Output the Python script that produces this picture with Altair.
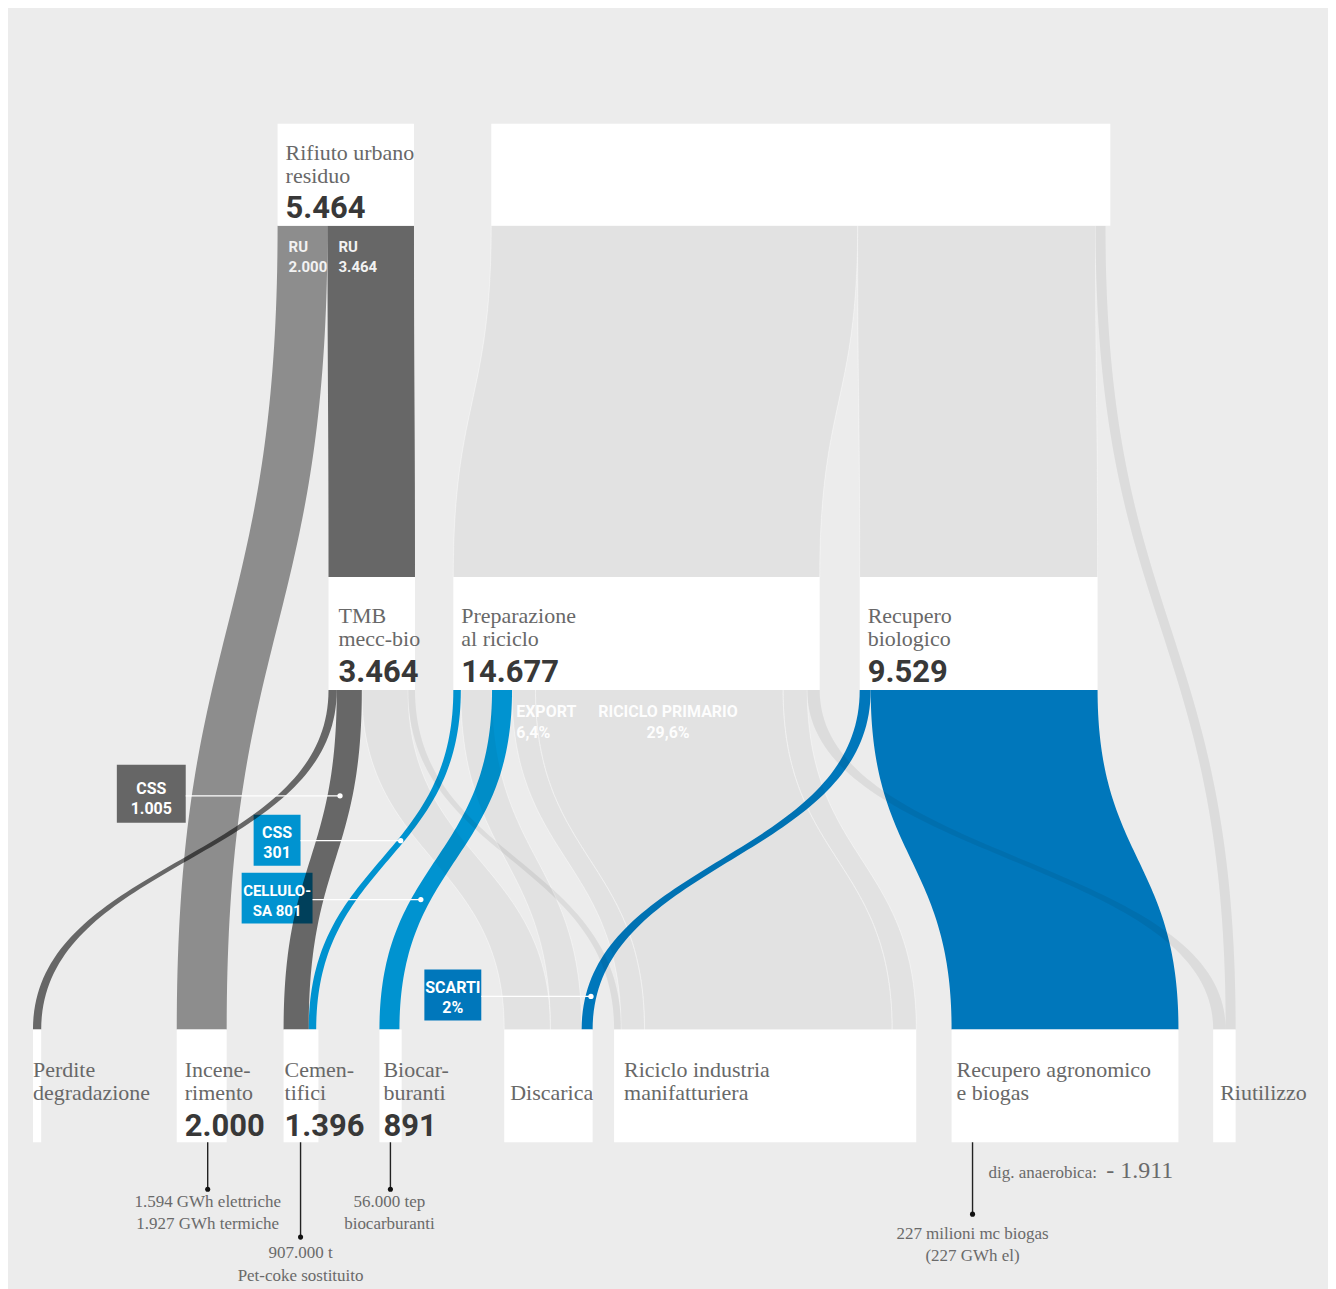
import altair as alt
import numpy as np
import pandas as pd

# ---------------- data (thousand tonnes) ----------------
node_ids = ["RUR", "RD", "TMB", "PREP", "BIO", "PERD", "INC", "CEM", "BIOC", "DISC", "RIC", "AGR", "RIU"]
node_values = [5464, 0, 3464, 14677, 9529, 0, 2000, 1396, 891, 0, 0, 0, 0]

flow_src = ["RUR", "RUR", "RD", "RD", "RD", "TMB", "TMB", "TMB", "TMB",
            "PREP", "PREP", "PREP", "PREP", "PREP", "PREP", "PREP", "BIO", "BIO"]
flow_tgt = ["INC", "TMB", "PREP", "BIO", "RIU", "PERD", "CEM", "DISC", "RIC",
            "CEM", "DISC", "BIOC", "RIC", "RIC", "RIC", "RIU", "DISC", "AGR"]
flow_val = [2000, 3464, 14677, 9529, 400, 330, 1005, 1850, 280,
            301, 1250, 801, 939, 9920, 966, 500, 440, 9089]
flow_kind = ["mid", "dark", "light", "light", "thin", "dark", "dark", "light", "thin",
             "cyan", "light", "cyan", "light", "light", "light", "thin", "blue", "blue"]
flow_tgt_rank = [0, 0, 0, 0, 1, 0, 0, 0, 0, 1, 1, 0, 1, 2, 3, 0, 2, 0]

serif_labels = [("Rifiuto urbano", "RUR", 0), ("residuo", "RUR", 1),
                ("TMB", "TMB", 0), ("mecc-bio", "TMB", 1),
                ("Preparazione", "PREP", 0), ("al riciclo", "PREP", 1),
                ("Recupero", "BIO", 0), ("biologico", "BIO", 1),
                ("Perdite", "PERD", 0), ("degradazione", "PERD", 1),
                ("Incene-", "INC", 0), ("rimento", "INC", 1),
                ("Cemen-", "CEM", 0), ("tifici", "CEM", 1),
                ("Biocar-", "BIOC", 0), ("buranti", "BIOC", 1),
                ("Discarica", "DISC", 1),
                ("Riciclo industria", "RIC", 0), ("manifatturiera", "RIC", 1),
                ("Recupero agronomico", "AGR", 0), ("e biogas", "AGR", 1),
                ("Riutilizzo", "RIU", 1)]

annotations = ["1.594 GWh elettriche", "1.927 GWh termiche", "907.000 t", "Pet-coke sostituito",
               "56.000 tep", "biocarburanti", "227 milioni mc biogas", "(227 GWh el)"]
flow_tags = [["CSS", "1.005"], ["CSS", "301"], ["CELLULO-", "SA 801"], ["SCARTI", "2%"]]
pct_tags = [["EXPORT", "6,4%"], ["RICICLO PRIMARIO", "29,6%"]]

# ---------------- layout ----------------
K = 0.025  # px per thousand tonnes
node_row = [0, 0, 1, 1, 1, 2, 2, 2, 2, 2, 2, 2, 2]
node_left = [278, 492, 329, 454, 861, 33, 177, 284, 380, 505, 615, 953, 1215]
node_minw = {"RD": 620}
row_top = [123, 577, 1030]
row_bot = [225, 690, 1143]
label_dx = {"RUR": 8, "TMB": 10, "PREP": 8, "BIO": 8, "PERD": 0, "INC": 8, "CEM": 1,
            "BIOC": 4, "DISC": 6, "RIC": 10, "AGR": 5, "RIU": 7}
row_base = [[159, 182, 217], [623, 646, 682], [1078, 1101, 1137]]

SERIF = "Liberation Serif, DejaVu Serif, serif"
COND = "Roboto, Liberation Sans Narrow, sans-serif"

idx = {n: i for i, n in enumerate(node_ids)}

def fmt(v):
    return f"{v:,}".replace(",", ".")

# ---------------- flow geometry ----------------
tgt_off = {}
for n in node_ids:
    fl = sorted([i for i, t in enumerate(flow_tgt) if t == n], key=lambda i: flow_tgt_rank[i])
    off = 0.0
    for i in fl:
        tgt_off[i] = off
        off += flow_val[i] * K
src_off = {n: 0.0 for n in node_ids}
geom = {}
rows = []
edges = []
ts = np.linspace(0, 1, 81)
for i, (s, t, v) in enumerate(zip(flow_src, flow_tgt, flow_val)):
    w = v * K
    xs = node_left[idx[s]] + src_off[s]
    src_off[s] += w
    xt = node_left[idx[t]] + tgt_off[i]
    y0 = row_bot[node_row[idx[s]]]
    y1 = row_top[node_row[idx[t]]]
    geom[i] = (xs, xt, w, y0, y1)
    ym = (y0 + y1) / 2
    for tt in ts:
        a = (1 - tt) ** 3
        b = 3 * (1 - tt) ** 2 * tt
        c = 3 * (1 - tt) * tt ** 2
        d = tt ** 3
        y = a * y0 + (b + c) * ym + d * y1
        xl = (a + b) * xs + (c + d) * xt
        rows.append(dict(id=i, t=tt, y=y, xl=xl, xr=xl + w, kind=flow_kind[i]))
        if flow_kind[i] == "light":
            edges.append(dict(eid=f"{i}L", t=tt, y=y, x=xl))
            edges.append(dict(eid=f"{i}R", t=tt, y=y, x=xl + w))
flows = pd.DataFrame(rows)
edges = pd.DataFrame(edges)

def center_at(i, yq):
    xs, xt, w, y0, y1 = geom[i]
    tt = np.linspace(0, 1, 2001)
    fy = y0 + (y1 - y0) * (1.5 * tt * (1 - tt) + tt ** 3)
    k = int(np.argmin(np.abs(fy - yq)))
    f = 3 * tt[k] ** 2 * (1 - tt[k]) + tt[k] ** 3
    return xs + (xt - xs) * f + w / 2

# node boxes
in_sum = {n: 0.0 for n in node_ids}
out_sum = {n: 0.0 for n in node_ids}
for s, t, v in zip(flow_src, flow_tgt, flow_val):
    out_sum[s] += v
    in_sum[t] += v
boxes = []
for n, v, r, x in zip(node_ids, node_values, node_row, node_left):
    w = node_minw.get(n, max(in_sum[n], out_sum[n], v) * K)
    boxes.append(dict(x=x, x2=x + w, y=row_top[r], y2=row_bot[r]))
boxes = pd.DataFrame(boxes)

X = alt.Scale(domain=[8, 1330], nice=False, zero=False)
Y = alt.Scale(domain=[8, 1289], nice=False, zero=False, reverse=True)

def xq(f, **kw):
    return alt.X(f, scale=X, axis=None, **kw)

def yq(f, **kw):
    return alt.Y(f, scale=Y, axis=None, **kw)

def flow_layer(kind, color, op):
    d = flows[flows.kind == kind]
    return alt.Chart(d).mark_area(orient="horizontal", color=color, fillOpacity=op).encode(
        y=yq("y:Q"), x=xq("xl:Q", stack=None), x2="xr:Q", detail="id:N")

layers = []
# faint light separations between the gray flows (kept under the coloured flows)
layers.append(alt.Chart(edges).mark_line(color="white", strokeWidth=1, opacity=0.45).encode(
    x=xq("x:Q"), y=yq("y:Q"), detail="eid:N", order="t:Q"))
layers.append(flow_layer("cyan", "#0093d0", 1))
layers.append(flow_layer("blue", "#0077bb", 1))

# tag boxes (coloured) under the gray flows
tag_box = pd.DataFrame(dict(
    x=[117, 254, 242, 425], x2=[186, 301, 313, 482],
    y=[765, 815, 873, 970], y2=[823, 866, 924, 1021],
    c=["#666666", "#0093d0", "#0093d0", "#0077bb"]))
layers.append(alt.Chart(tag_box).mark_rect().encode(
    x=xq("x:Q"), x2="x2:Q", y=yq("y:Q"), y2="y2:Q", color=alt.Color("c:N", scale=None)))

layers.append(flow_layer("light", "black", 0.04))
layers.append(flow_layer("thin", "black", 0.065))
layers.append(flow_layer("mid", "black", 0.405))
layers.append(flow_layer("dark", "black", 0.565))

# white node boxes
layers.append(alt.Chart(boxes).mark_rect(color="white").encode(
    x=xq("x:Q"), x2="x2:Q", y=yq("y:Q"), y2="y2:Q"))

# tag connector lines + dots
tag_y = [796, 841, 900, 997]
tag_flow = [6, 9, 11, 16]
tag_x0 = [186, 301, 313, 482]
tag_x1 = [center_at(i, yy) for i, yy in zip(tag_flow, tag_y)]
conn = pd.DataFrame(dict(x=tag_x0, x2=tag_x1, y=tag_y))
layers.append(alt.Chart(conn).mark_rule(color="white", strokeWidth=1.2).encode(
    x=xq("x:Q"), x2="x2:Q", y=yq("y:Q")))
layers.append(alt.Chart(conn).mark_point(filled=True, color="white", size=28, opacity=1).encode(
    x=xq("x2:Q"), y=yq("y:Q")))

# tag texts
tag_cx = [151.5, 277.5, 277.5, 453.5]
tag_b = [(794, 814), (838, 858), (896, 916), (994, 1014)]
tag_fs = [16, 16, 15, 16]
tt_rows = []
for (l1, l2), cx, (b1, b2), fs in zip(flow_tags, tag_cx, tag_b, tag_fs):
    tt_rows += [dict(x=cx, y=b1, s=l1, fs=fs), dict(x=cx, y=b2, s=l2, fs=fs)]
layers.append(alt.Chart(pd.DataFrame(tt_rows)).mark_text(
    font=COND, fontWeight="bold", color="white", align="center",
    baseline="alphabetic").encode(x=xq("x:Q"), y=yq("y:Q"), text="s:N",
                                  size=alt.Size("fs:Q", scale=None, legend=None)))

# RU labels inside flows
ru_rows = [dict(x=289, y=251, s="RU"), dict(x=289, y=271, s=fmt(flow_val[0])),
           dict(x=339, y=251, s="RU"), dict(x=339, y=271, s=fmt(flow_val[1]))]
layers.append(alt.Chart(pd.DataFrame(ru_rows)).mark_text(
    font=COND, fontSize=15, fontWeight="bold", color="#f2f2f2", align="left",
    baseline="alphabetic").encode(x=xq("x:Q"), y=yq("y:Q"), text="s:N"))

# percentage labels
pct_rows = [dict(x=517, y=717, s=pct_tags[0][0], a="left"), dict(x=517, y=738, s=pct_tags[0][1], a="left"),
            dict(x=669, y=717, s=pct_tags[1][0], a="center"), dict(x=669, y=738, s=pct_tags[1][1], a="center")]
pdf = pd.DataFrame(pct_rows)
for a in ["left", "center"]:
    layers.append(alt.Chart(pdf[pdf.a == a]).mark_text(
        font=COND, fontSize=16, fontWeight="bold", color="white", opacity=0.95, align=a,
        baseline="alphabetic").encode(x=xq("x:Q"), y=yq("y:Q"), text="s:N"))

# serif node labels
sl_rows = []
for s, n, line in serif_labels:
    i = idx[n]
    sl_rows.append(dict(x=node_left[i] + label_dx[n], y=row_base[node_row[i]][line], s=s))
layers.append(alt.Chart(pd.DataFrame(sl_rows)).mark_text(
    font=SERIF, fontSize=22, color="#686868", align="left", baseline="alphabetic").encode(
    x=xq("x:Q"), y=yq("y:Q"), text="s:N"))

# big numbers
bn_rows = []
for n, v, r in zip(node_ids, node_values, node_row):
    if v:
        i = idx[n]
        bn_rows.append(dict(x=node_left[i] + label_dx[n], y=row_base[r][2], s=fmt(v)))
layers.append(alt.Chart(pd.DataFrame(bn_rows)).mark_text(
    font=COND, fontSize=31, fontWeight="bold", color="#383838", align="left",
    baseline="alphabetic").encode(x=xq("x:Q"), y=yq("y:Q"), text="s:N"))

# leader lines under bottom nodes
lead = pd.DataFrame(dict(x=[208, 301, 391, 974], y=[1143] * 4, y2=[1190, 1238, 1190, 1215]))
layers.append(alt.Chart(lead).mark_rule(color="#222222", strokeWidth=1.4).encode(
    x=xq("x:Q"), y=yq("y:Q"), y2="y2:Q"))
layers.append(alt.Chart(lead).mark_point(filled=True, color="#111111", size=26, opacity=1).encode(
    x=xq("x:Q"), y=yq("y2:Q")))

ann_xy = [(208, 1208), (208, 1230), (301, 1259), (301, 1282), (390, 1208), (390, 1230),
          (974, 1240), (974, 1262)]
ann = pd.DataFrame([dict(x=x, y=y, s=s) for s, (x, y) in zip(annotations, ann_xy)])
layers.append(alt.Chart(ann).mark_text(
    font=SERIF, fontSize=17, color="#6a6a6a", align="center", baseline="alphabetic").encode(
    x=xq("x:Q"), y=yq("y:Q"), text="s:N"))

dig = pd.DataFrame([dict(x=990, y=1179, s="dig. anaerobica:")])
layers.append(alt.Chart(dig).mark_text(
    font=SERIF, fontSize=17, color="#6a6a6a", align="left", baseline="alphabetic").encode(
    x=xq("x:Q"), y=yq("y:Q"), text="s:N"))
dig2 = pd.DataFrame([dict(x=1108, y=1179, s="- 1.911")])
layers.append(alt.Chart(dig2).mark_text(
    font=SERIF, fontSize=24, color="#6a6a6a", align="left", baseline="alphabetic").encode(
    x=xq("x:Q"), y=yq("y:Q"), text="s:N"))

chart = alt.layer(*layers).properties(
    width=1322, height=1281, background="#ececec", padding=0, autosize="none"
).configure_view(stroke=None)

chart.save("out.html", embed_options={"renderer": "svg", "actions": False})
